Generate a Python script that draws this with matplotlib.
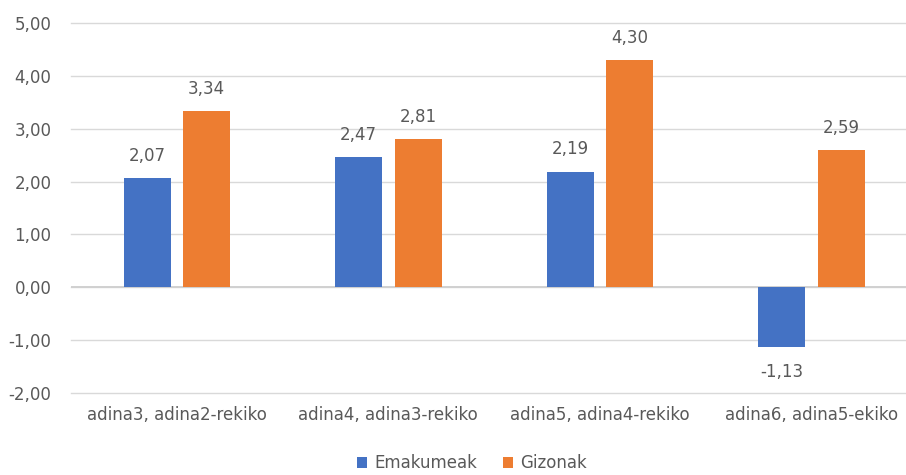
import matplotlib
matplotlib.use("Agg")
import matplotlib.pyplot as plt
import numpy as np

categories = ["adina3, adina2-rekiko", "adina4, adina3-rekiko",
              "adina5, adina4-rekiko", "adina6, adina5-ekiko"]
emakumeak = [2.07, 2.47, 2.19, -1.13]
gizonak = [3.34, 2.81, 4.30, 2.59]
series_names = ["Emakumeak", "Gizonak"]
y_ticks = [-2, -1, 0, 1, 2, 3, 4, 5]

blue = "#4472C4"
orange = "#ED7D31"
text_col = "#595959"

plt.rcParams["font.family"] = ["DejaVu Sans"]

fig = plt.figure(figsize=(9.06, 4.75), dpi=100)
ax = fig.add_axes([0.0784, 0.1726, 0.9338, 0.779])

x = np.arange(len(categories))
w = 0.222
off = 0.1407
b1 = ax.bar(x - off, emakumeak, w, color=blue, label=series_names[0], zorder=3)
b2 = ax.bar(x + off, gizonak, w, color=orange, label=series_names[1], zorder=3)

def fmt(v):
    return f"{v:.2f}".replace(".", ",")

for bars, vals in ((b1, emakumeak), (b2, gizonak)):
    for r, v in zip(bars, vals):
        cx = r.get_x() + r.get_width() / 2
        if v >= 0:
            ax.annotate(fmt(v), (cx, v), xytext=(0, 9.5), textcoords="offset points",
                        ha="center", va="bottom", fontsize=12, color=text_col)
        else:
            ax.annotate(fmt(v), (cx, v), xytext=(0, -11.5), textcoords="offset points",
                        ha="center", va="top", fontsize=12, color=text_col)

ax.set_xlim(-0.5, len(categories) - 0.5)
ax.set_ylim(-2, 5)
ax.set_yticks(y_ticks)
ax.set_yticklabels([fmt(t) for t in y_ticks])
ax.set_xticks(x)
ax.set_xticklabels(categories)
ax.tick_params(axis="both", length=0, labelsize=12, colors=text_col)
ax.tick_params(axis="y", pad=14)
ax.tick_params(axis="x", pad=9)
ax.grid(axis="y", color="#D9D9D9", linewidth=1, zorder=0)
for gl in ax.get_ygridlines():
    gl.set_clip_on(False)
for s in ax.spines.values():
    s.set_visible(False)
ax.axhline(0, color="#D0D0D0", linewidth=1.4, zorder=2)

fig.legend(handles=[b1, b2], labels=series_names, loc="center",
           bbox_to_anchor=(0.521, 0.025), ncol=2, frameon=False,
           fontsize=12, labelcolor=text_col, handlelength=0.6,
           handleheight=0.6, handletextpad=0.4, columnspacing=1.6)

fig.savefig("out.png", dpi=100)
